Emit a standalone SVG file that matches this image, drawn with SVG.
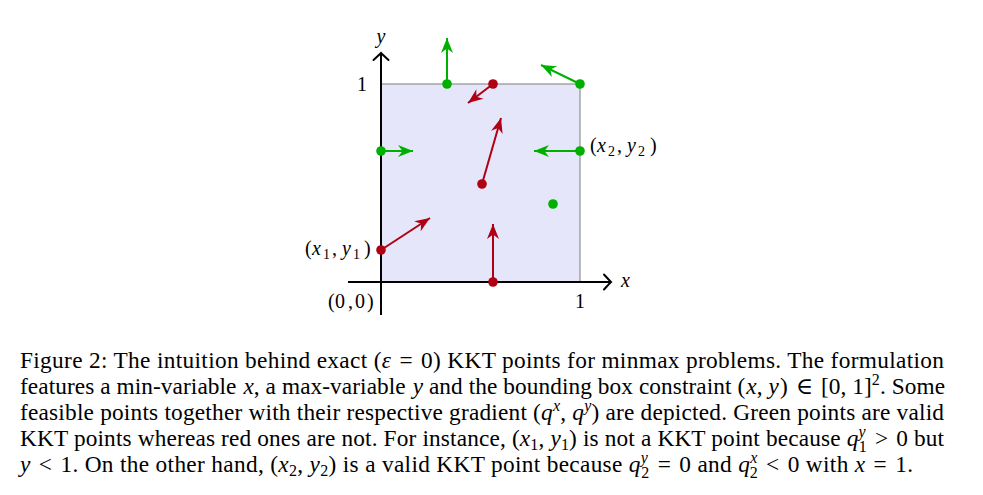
<svg xmlns="http://www.w3.org/2000/svg" width="983" height="495" viewBox="0 0 983 495">
<style>
.lbl{font-family:"Liberation Serif","DejaVu Serif",serif;font-size:20px;fill:#000}
.cap{font-family:"Liberation Serif","DejaVu Serif",serif;font-size:23.3px;fill:#000}
.i{font-style:italic}
.s{font-size:16px}
.ls{font-size:14px}
.g{stroke:#00b000;stroke-width:2;fill:none}
.r{stroke:#b00014;stroke-width:2;fill:none}
.ax{stroke:#000;stroke-width:2;fill:none}
.gd{fill:#00b000}
.rd{fill:#b00014}
</style>
<defs>
<marker id="hg" viewBox="-16 -7 17 14" refX="0" refY="0" markerWidth="17" markerHeight="14" markerUnits="userSpaceOnUse" orient="auto">
<path d="M0,0 L-15,-6 L-10.5,0 L-15,6 Z" fill="#00b000"/>
</marker>
<marker id="hr" viewBox="-16 -7 17 14" refX="0" refY="0" markerWidth="17" markerHeight="14" markerUnits="userSpaceOnUse" orient="auto">
<path d="M0,0 L-15,-6 L-10.5,0 L-15,6 Z" fill="#b00014"/>
</marker>
<marker id="ha" viewBox="-9 -9 11 18" refX="0" refY="0" markerWidth="11" markerHeight="18" markerUnits="userSpaceOnUse" orient="auto">
<path d="M-7,-7.5 Q-1.5,-1.5 0,0 Q-1.5,1.5 -7,7.5" fill="none" stroke="#000" stroke-width="2" stroke-linecap="round"/>
</marker>
</defs>

<g id="box">
<rect x="381" y="84" width="199" height="198" fill="#e6e6fa" stroke="#999" stroke-width="1.3"/>
</g>

<g id="axes">
<line class="ax" x1="348" y1="282" x2="611" y2="282" marker-end="url(#ha)"/>
<line class="ax" x1="381" y1="315" x2="381" y2="53" marker-end="url(#ha)"/>
<text class="lbl i" x="381" y="43" text-anchor="middle">y</text>
<text class="lbl i" x="621" y="287">x</text>
<text class="lbl" x="362" y="91" text-anchor="middle">1</text>
<text class="lbl" x="580" y="308" text-anchor="middle">1</text>
<text class="lbl" x="328 335 348 355 367" y="308">(0,0)</text>
</g>

<g id="connectors">
<line class="g" x1="447" y1="84" x2="447" y2="38" marker-end="url(#hg)"/>
<line class="r" x1="493" y1="84" x2="468" y2="103" marker-end="url(#hr)"/>
<line class="g" x1="580" y1="84" x2="541" y2="65" marker-end="url(#hg)"/>
<line class="g" x1="381" y1="151" x2="413" y2="151" marker-end="url(#hg)"/>
<line class="g" x1="580" y1="151" x2="534" y2="151" marker-end="url(#hg)"/>
<line class="r" x1="482" y1="184" x2="501" y2="118" marker-end="url(#hr)"/>
<line class="r" x1="381" y1="250" x2="430" y2="218" marker-end="url(#hr)"/>
<line class="r" x1="493" y1="282" x2="493" y2="224" marker-end="url(#hr)"/>
</g>

<g id="p1"><circle class="gd" cx="447" cy="84" r="4.8"/></g>
<g id="p2"><circle class="rd" cx="493" cy="84" r="4.8"/></g>
<g id="p3"><circle class="gd" cx="580" cy="84" r="4.8"/></g>
<g id="p4"><circle class="gd" cx="381" cy="151" r="4.8"/></g>
<g id="p5"><circle class="gd" cx="580" cy="151" r="4.8"/>
<text class="lbl" y="152"><tspan x="590">(</tspan><tspan class="i" x="597">x</tspan><tspan class="ls" x="608" dy="4">2</tspan><tspan x="617" dy="-4">,</tspan><tspan class="i" x="627">y</tspan><tspan class="ls" x="638" dy="4">2</tspan><tspan x="650" dy="-4">)</tspan></text></g>
<g id="p6"><circle class="rd" cx="482" cy="184" r="4.8"/></g>
<g id="p7"><circle class="gd" cx="553" cy="204" r="4.8"/></g>
<g id="p8"><circle class="rd" cx="381" cy="250" r="4.8"/>
<text class="lbl" y="255"><tspan x="305">(</tspan><tspan class="i" x="312">x</tspan><tspan class="ls" x="323" dy="4">1</tspan><tspan x="332" dy="-4">,</tspan><tspan class="i" x="342">y</tspan><tspan class="ls" x="353" dy="4">1</tspan><tspan x="364" dy="-4">)</tspan></text></g>
<g id="p9"><circle class="rd" cx="493" cy="282" r="4.8"/></g>

<g id="caption">
<text class="cap" x="20" y="368" textLength="924" lengthAdjust="spacing">Figure 2: The intuition behind exact (<tspan class="i">ε</tspan><tspan dx="2"> = </tspan><tspan dx="2">0) KKT points for minmax problems. The formulation</tspan></text>
<text class="cap" x="20" y="394" textLength="925" lengthAdjust="spacing">features a min-variable <tspan class="i" dx="1">x</tspan>, a max-variable <tspan class="i" dx="1">y</tspan> and the bounding box constraint (<tspan class="i" dx="1">x</tspan>, <tspan class="i">y</tspan><tspan dx="1">) </tspan><tspan dx="2">∈</tspan><tspan dx="2"> [0, 1]</tspan><tspan class="s" dy="-9">2</tspan><tspan dy="9">. Some</tspan></text>
<text class="cap" x="20" y="420" textLength="924" lengthAdjust="spacing">feasible points together with their respective gradient (<tspan class="i">q</tspan><tspan class="s i" dy="-9">x</tspan><tspan dy="9">, </tspan><tspan class="i">q</tspan><tspan class="s i" dy="-9">y</tspan><tspan dy="9">) are depicted. Green points are valid</tspan></text>
<text class="cap" x="20" y="446" textLength="924" lengthAdjust="spacing">KKT points whereas red ones are not. For instance, (<tspan class="i">x</tspan><tspan class="s" dy="4">1</tspan><tspan dy="-4">, </tspan><tspan class="i">y</tspan><tspan class="s" dy="4">1</tspan><tspan dy="-4">) is not a KKT point because </tspan><tspan class="i">q</tspan><tspan class="s i" dy="-9">y</tspan><tspan class="s" dx="-7" dy="15">1</tspan><tspan dy="-6" dx="2"> &gt; </tspan><tspan dx="2">0 but</tspan></text>
<text class="cap" x="20" y="472" textLength="893" lengthAdjust="spacing"><tspan class="i">y</tspan><tspan dx="2"> &lt; </tspan><tspan dx="2">1. On the other hand, (</tspan><tspan class="i">x</tspan><tspan class="s" dy="4">2</tspan><tspan dy="-4">, </tspan><tspan class="i">y</tspan><tspan class="s" dy="4">2</tspan><tspan dy="-4">) is a valid KKT point because </tspan><tspan class="i">q</tspan><tspan class="s i" dy="-9">y</tspan><tspan class="s" dx="-7" dy="15">2</tspan><tspan dy="-6" dx="2"> = </tspan><tspan dx="2">0 and </tspan><tspan class="i">q</tspan><tspan class="s i" dy="-9">x</tspan><tspan class="s" dx="-8" dy="15">2</tspan><tspan dy="-6" dx="2"> &lt; </tspan><tspan dx="2">0 with </tspan><tspan class="i">x</tspan><tspan dx="2"> = </tspan><tspan dx="2">1.</tspan></text>
</g>
</svg>
